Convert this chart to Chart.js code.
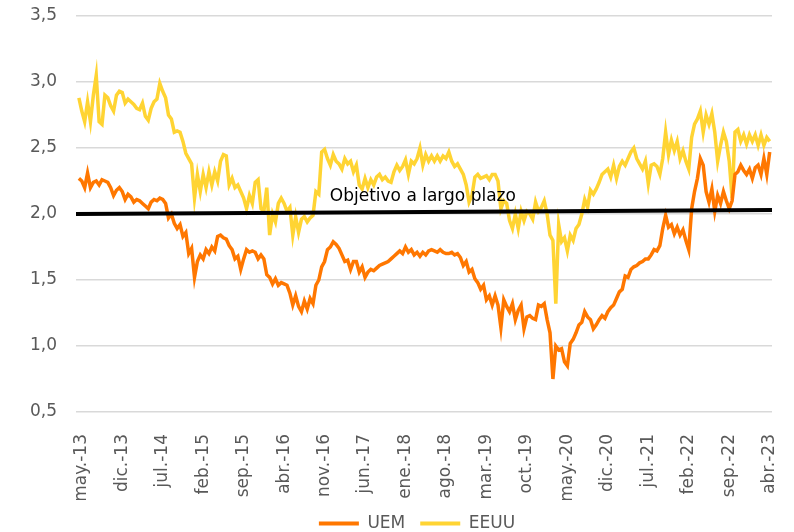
<!DOCTYPE html>
<html>
<head>
<meta charset="utf-8">
<script src="https://cdn.jsdelivr.net/npm/chart.js@4.4.0/dist/chart.umd.min.js"></script>
<style>
  html, body { margin: 0; padding: 0; background: #fff; }
  #wrap { width: 794px; height: 532px; }
</style>
</head>
<body>
<div id="wrap"><canvas id="myChart" width="794" height="532"></canvas></div>
<script>
// tick labels, one every 7 months starting may-13 (month 0)
var tickLabels = ["may.-13", "dic.-13", "jul.-14", "feb.-15", "sep.-15", "abr.-16",
  "nov.-16", "jun.-17", "ene.-18", "ago.-18", "mar.-19", "oct.-19", "may.-20",
  "dic.-20", "jul.-21", "feb.-22", "sep.-22", "abr.-23"];
var tickMonths = [0, 7, 14, 21, 28, 35, 42, 49, 56, 63, 70, 77, 84, 91, 98, 105, 112, 119];

// series sampled every half month, first point at month -0.5
var firstMonth = -0.5;
var stepMonths = 0.5;

var uem = [
  2.27, 2.25, 2.20, 2.31, 2.20, 2.24, 2.25, 2.22, 2.26, 2.25, 2.24, 2.20,
  2.14, 2.18, 2.20, 2.17, 2.11, 2.15, 2.13, 2.09, 2.11, 2.10, 2.08, 2.06,
  2.04, 2.09, 2.11, 2.10, 2.12, 2.11, 2.08, 1.97, 2.00, 1.93, 1.89, 1.92,
  1.83, 1.86, 1.70, 1.74, 1.52, 1.64, 1.69, 1.66, 1.73, 1.70, 1.75, 1.72,
  1.83, 1.84, 1.82, 1.81, 1.76, 1.73, 1.66, 1.68, 1.58, 1.66, 1.73, 1.71,
  1.72, 1.71, 1.66, 1.69, 1.66, 1.54, 1.52, 1.47, 1.51, 1.46, 1.48, 1.47,
  1.46, 1.40, 1.31, 1.38, 1.30, 1.26, 1.34, 1.28, 1.36, 1.32, 1.46, 1.50,
  1.60, 1.64, 1.73, 1.75, 1.79, 1.77, 1.74, 1.69, 1.64, 1.65, 1.58, 1.64,
  1.64, 1.56, 1.60, 1.52, 1.56, 1.58, 1.57, 1.59, 1.61, 1.62, 1.63, 1.64,
  1.66, 1.68, 1.70, 1.72, 1.70, 1.75, 1.71, 1.73, 1.69, 1.71, 1.68, 1.71,
  1.69, 1.72, 1.73, 1.72, 1.71, 1.73, 1.71, 1.70, 1.70, 1.71, 1.69, 1.70,
  1.67, 1.61, 1.64, 1.56, 1.58, 1.51, 1.48, 1.43, 1.46, 1.35, 1.38, 1.31,
  1.38, 1.31, 1.14, 1.35, 1.30, 1.26, 1.32, 1.20, 1.27, 1.31, 1.13, 1.22,
  1.23, 1.21, 1.20, 1.31, 1.30, 1.32, 1.20, 1.10, 0.75, 1.00, 0.97, 0.98,
  0.88, 0.85, 1.02, 1.05, 1.10, 1.16, 1.18, 1.26, 1.22, 1.20, 1.13, 1.16,
  1.20, 1.23, 1.21, 1.26, 1.29, 1.31, 1.36, 1.41, 1.43, 1.53, 1.52, 1.58,
  1.60, 1.61, 1.63, 1.64, 1.66, 1.66, 1.69, 1.73, 1.72, 1.76, 1.89, 1.99,
  1.90, 1.92, 1.85, 1.90, 1.84, 1.88, 1.80, 1.73, 2.04, 2.17, 2.27, 2.42,
  2.37, 2.17, 2.09, 2.19, 2.02, 2.14, 2.08, 2.17, 2.10, 2.04, 2.10, 2.30,
  2.32, 2.37, 2.33, 2.30, 2.34, 2.27, 2.35, 2.37, 2.30, 2.42, 2.30, 2.47
];

var eeuu = [
  2.88, 2.78, 2.70, 2.85, 2.70, 2.90, 3.05, 2.70, 2.68, 2.90, 2.88, 2.82,
  2.78, 2.90, 2.93, 2.92, 2.84, 2.87, 2.85, 2.83, 2.80, 2.79, 2.84, 2.74,
  2.71, 2.80, 2.85, 2.87, 2.99, 2.93, 2.88, 2.75, 2.72, 2.62, 2.63, 2.62,
  2.55, 2.46, 2.42, 2.38, 2.12, 2.30, 2.17, 2.30, 2.20, 2.32, 2.22, 2.32,
  2.25, 2.40, 2.45, 2.44, 2.22, 2.27, 2.20, 2.22, 2.17, 2.12, 2.04, 2.14,
  2.08, 2.24, 2.26, 2.04, 2.02, 2.20, 1.84, 2.00, 1.94, 2.08, 2.12, 2.08,
  2.02, 2.05, 1.84, 1.98, 1.86, 1.96, 1.98, 1.94, 1.97, 1.99, 2.17, 2.15,
  2.47, 2.49, 2.42, 2.37, 2.45, 2.40, 2.38, 2.34, 2.42, 2.38, 2.40, 2.32,
  2.37, 2.22, 2.19, 2.27, 2.20, 2.26, 2.22, 2.28, 2.30, 2.26, 2.28, 2.25,
  2.24, 2.32, 2.37, 2.33, 2.36, 2.41, 2.30, 2.40, 2.38, 2.42, 2.50, 2.37,
  2.45, 2.40, 2.44, 2.40, 2.44, 2.40, 2.44, 2.42, 2.47, 2.40, 2.36, 2.38,
  2.34, 2.30, 2.22, 2.09, 2.14, 2.28, 2.30, 2.27, 2.28, 2.29, 2.26, 2.30,
  2.30, 2.25, 2.04, 2.10, 2.08, 1.95, 1.89, 2.00, 1.89, 2.02, 1.95, 2.02,
  2.00, 1.96, 2.09, 2.02, 2.05, 2.10, 2.00, 1.84, 1.80, 1.32, 1.92, 1.79,
  1.82, 1.72, 1.84, 1.80, 1.89, 1.92, 2.00, 2.11, 2.05, 2.18, 2.15, 2.19,
  2.24, 2.30, 2.32, 2.34, 2.28, 2.37, 2.27, 2.36, 2.40, 2.37, 2.42, 2.47,
  2.50, 2.42, 2.38, 2.34, 2.40, 2.23, 2.37, 2.38, 2.36, 2.30, 2.42, 2.62,
  2.45, 2.56, 2.48, 2.55, 2.42, 2.48, 2.40, 2.34, 2.58, 2.68, 2.72, 2.78,
  2.62, 2.75, 2.68, 2.76, 2.62, 2.40, 2.52, 2.62, 2.55, 2.40, 2.12, 2.62,
  2.64, 2.55, 2.60, 2.53, 2.60, 2.55, 2.60, 2.52, 2.60, 2.52, 2.58, 2.55
];

// long-term target line (start / end)
var targetMonths = [-1, 119.4];
var targetValues = [2.0, 2.03];
var targetLabel = "Objetivo a largo plazo";

var fontFamily = "'DejaVu Sans'";
var tickColor = "#595959";

function toPoints(values) {
  return values.map(function (v, i) {
    return { x: firstMonth + i * stepMonths, y: v };
  });
}

var labelPlugin = {
  id: "targetLabel",
  afterLayout: function (chart) {
    // legend sits a bit right of centre
    chart.legend.left = 62;
  },
  afterDatasetsDraw: function (chart) {
    var c = chart.ctx;
    var x = chart.scales.x.getPixelForValue(59);
    var y = chart.scales.y.getPixelForValue(2.13);
    c.save();
    c.font = "17px " + fontFamily;
    c.fillStyle = "#000";
    c.textAlign = "center";
    c.textBaseline = "middle";
    c.fillText(targetLabel, x, y);
    c.restore();
  }
};

var ctx = document.getElementById("myChart").getContext("2d");
var myChart = new Chart(ctx, {
  type: "line",
  data: {
    datasets: [
      {
        label: "target",
        data: targetMonths.map(function (m, i) { return { x: m, y: targetValues[i] }; }),
        borderColor: "#000000",
        backgroundColor: "#000000",
        borderWidth: 4,
        pointRadius: 0
      },
      {
        label: "UEM",
        data: toPoints(uem),
        borderColor: "#FF7700",
        backgroundColor: "#FF7700",
        borderWidth: 3.5,
        pointRadius: 0
      },
      {
        label: "EEUU",
        data: toPoints(eeuu),
        borderColor: "#FFD433",
        backgroundColor: "#FFD433",
        borderWidth: 3.5,
        pointRadius: 0
      }
    ]
  },
  options: {
    responsive: false,
    animation: false,
    layout: { padding: { left: 0, right: 22, top: 16, bottom: -10 } },
    plugins: {
      tooltip: { enabled: false },
      legend: {
        position: "bottom",
        labels: {
          filter: function (item) { return item.text !== "target"; },
          boxWidth: 40,
          boxHeight: 4,
          padding: 15,
          color: tickColor,
          font: { family: fontFamily, size: 17 },
          generateLabels: function (chart) {
            var items = Chart.defaults.plugins.legend.labels.generateLabels(chart);
            items.forEach(function (it) { it.lineWidth = 0; });
            return items;
          }
        }
      }
    },
    scales: {
      x: {
        type: "linear",
        min: -1,
        max: 119.4,
        afterBuildTicks: function (scale) {
          scale.ticks = tickMonths.map(function (m) { return { value: m }; });
        },
        afterFit: function (scale) {
          scale.height = 88;
          scale.paddingLeft = 0;
          scale.paddingRight = 0;
        },
        grid: { display: false },
        border: { display: false },
        ticks: {
          autoSkip: false,
          minRotation: 90,
          maxRotation: 90,
          padding: 14,
          color: tickColor,
          font: { family: fontFamily, size: 17 },
          callback: function (value) {
            var k = tickMonths.indexOf(value);
            return k >= 0 ? tickLabels[k] : "";
          }
        }
      },
      y: {
        min: 0.5,
        max: 3.5,
        afterFit: function (scale) {
          scale.width = 76;
          scale.paddingTop = 0;
          scale.paddingBottom = 0;
        },
        grid: { color: "#d9d9d9", lineWidth: 1.5, drawTicks: false },
        border: { display: false },
        ticks: {
          stepSize: 0.5,
          padding: 19,
          color: tickColor,
          font: { family: fontFamily, size: 17 },
          callback: function (v) { return v.toFixed(1).replace(".", ","); }
        }
      }
    }
  },
  plugins: [labelPlugin]
});
</script>
</body>
</html>
